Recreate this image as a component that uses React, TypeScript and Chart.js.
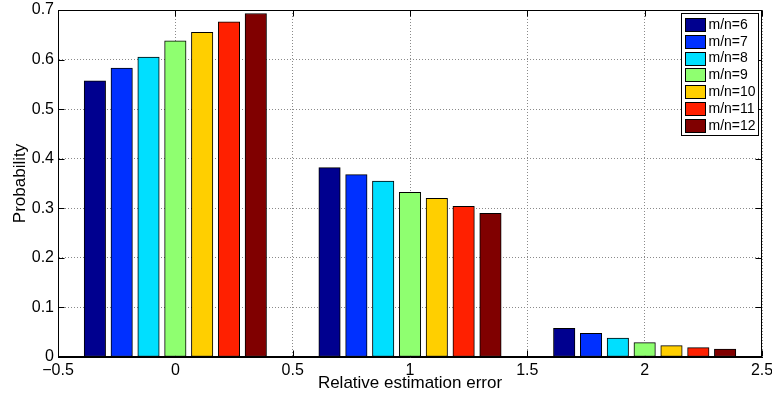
import React, { useEffect, useRef } from 'react';
import { Chart, registerables } from 'chart.js';

Chart.register(...registerables);

// ---- data ----
const categories = [0, 1, 2];
const seriesLabels = ['m/n=6', 'm/n=7', 'm/n=8', 'm/n=9', 'm/n=10', 'm/n=11', 'm/n=12'];
const mn6 = [0.557, 0.382, 0.058];
const mn7 = [0.583, 0.368, 0.048];
const mn8 = [0.605, 0.355, 0.038];
const mn9 = [0.638, 0.332, 0.029];
const mn10 = [0.655, 0.320, 0.023];
const mn11 = [0.676, 0.304, 0.019];
const mn12 = [0.693, 0.290, 0.016];
const seriesValues = [mn6, mn7, mn8, mn9, mn10, mn11, mn12];
const seriesColors = ['#00008F', '#0030FF', '#00DFFF', '#8FFF70', '#FFCF00', '#FF2000', '#800000'];
const xTickValues = [-0.5, 0, 0.5, 1, 1.5, 2, 2.5];
const yTickValues = [0, 0.1, 0.2, 0.3, 0.4, 0.5, 0.6, 0.7];

const FONT = '"Liberation Sans", Arial, Helvetica, sans-serif';

const fmt = (v: number) => {
  const s = String(Number(v.toFixed(2)));
  return v < 0 ? '\u2212' + s.slice(1) : s;
};

const framePlugin = {
  id: 'matlabFrame',
  beforeDatasetsDraw(chart: any) {
    const { ctx, chartArea: a, scales } = chart;
    const xs = scales.x;
    const ys = scales.y;
    const L = Math.round(a.left) + 0.5;
    const R = Math.round(a.right) - 0.5;
    const T = Math.round(a.top) + 0.5;
    const B = Math.round(a.bottom) - 0.5;
    const tl = 6;
    ctx.save();
    ctx.strokeStyle = '#000';
    ctx.lineWidth = 1;
    ctx.setLineDash([]);
    ctx.beginPath();
    xTickValues.forEach((v) => {
      const px = Math.round(xs.getPixelForValue(v)) + 0.5;
      ctx.moveTo(px, B);
      ctx.lineTo(px, B - tl);
      ctx.moveTo(px, T);
      ctx.lineTo(px, T + tl);
    });
    yTickValues.forEach((v) => {
      const py = Math.round(ys.getPixelForValue(v)) + 0.5;
      ctx.moveTo(L, py);
      ctx.lineTo(L + tl, py);
      ctx.moveTo(R, py);
      ctx.lineTo(R - tl, py);
    });
    ctx.stroke();
    ctx.strokeRect(L, T, R - L, B - T);
    ctx.restore();
  },
};

const legendPlugin = {
  id: 'matlabLegend',
  afterDraw(chart: any) {
    const { ctx, chartArea: a } = chart;
    const ds = chart.data.datasets;
    ctx.save();
    ctx.font = '14px ' + FONT;
    const tw = Math.max(...ds.map((d: any) => ctx.measureText(d.label).width));
    const padL = 4;
    const sw = 20;
    const sh = 13;
    const gap = 3;
    const padR = 3;
    const rowH = 16.8;
    const w = Math.round(padL + sw + gap + tw + padR);
    const h = Math.round(2.5 + rowH * ds.length + 1.5);
    const left = Math.round(a.right - 4 - w) + 0.5;
    const top = Math.round(a.top + 3) + 0.5;
    ctx.fillStyle = '#fff';
    ctx.fillRect(left, top, w, h);
    ctx.strokeStyle = '#000';
    ctx.lineWidth = 1;
    ctx.strokeRect(left, top, w, h);
    ds.forEach((d: any, i: number) => {
      const cy = top + 2.5 + rowH * (i + 0.5);
      const sy = Math.round(cy - sh / 2) + 0.5;
      const sx = left + padL;
      ctx.fillStyle = d.backgroundColor;
      ctx.fillRect(sx, sy, sw, sh);
      ctx.strokeStyle = '#000';
      ctx.strokeRect(sx, sy, sw, sh);
      ctx.fillStyle = '#000';
      ctx.textBaseline = 'middle';
      ctx.textAlign = 'left';
      ctx.fillText(d.label, sx + sw + gap, cy + 0.5);
    });
    ctx.restore();
  },
};

export default function App() {
  const ref = useRef<HTMLCanvasElement | null>(null);

  useEffect(() => {
    if (!ref.current) return;
    const datasets = seriesLabels.map((label, i) => ({
      label,
      data: categories.map((c, j) => ({ x: c, y: seriesValues[i][j] })),
      backgroundColor: seriesColors[i],
      borderColor: '#000',
      borderWidth: 1,
      borderSkipped: false,
      barThickness: 'flex',
      categoryPercentage: 0.8,
      barPercentage: 0.8,
    }));

    const chart = new Chart(ref.current, {
      type: 'bar',
      data: { datasets } as any,
      plugins: [framePlugin, legendPlugin],
      options: {
        animation: false,
        responsive: true,
        maintainAspectRatio: false,
        layout: { padding: { top: 10, right: 10, left: 0, bottom: 0 } },
        plugins: {
          legend: { display: false },
          tooltip: { enabled: false },
        },
        scales: {
          x: {
            type: 'linear',
            min: -0.5,
            max: 2.5,
            offset: false,
            afterBuildTicks: (s: any) => {
              s.ticks = xTickValues.map((v) => ({ value: v }));
            },
            afterFit: (s: any) => {
              s.height = 39;
              s.paddingRight = 0;
              s.paddingLeft = 0;
            },
            grid: { color: '#8a8a8a', drawTicks: false, offset: false, lineWidth: 1 },
            border: { display: true, color: '#000', width: 1, dash: [1, 2] },
            ticks: {
              color: '#000',
              font: { family: FONT, size: 16 },
              padding: 4,
              autoSkip: false,
              maxRotation: 0,
              callback: (v: any) => fmt(Number(v)),
            },
            title: {
              display: true,
              text: 'Relative estimation error',
              color: '#000',
              font: { family: FONT, size: 17 },
              padding: { top: 0, bottom: 2 },
            },
          },
          y: {
            type: 'linear',
            min: 0,
            max: 0.7,
            afterBuildTicks: (s: any) => {
              s.ticks = yTickValues.map((v) => ({ value: v }));
            },
            afterFit: (s: any) => {
              s.width = 58;
              s.paddingTop = 0;
              s.paddingBottom = 0;
            },
            grid: { color: '#8a8a8a', drawTicks: false, lineWidth: 1 },
            border: { display: true, color: '#000', width: 1, dash: [1, 2] },
            ticks: {
              color: '#000',
              font: { family: FONT, size: 16 },
              padding: 4,
              autoSkip: false,
              callback: (v: any) => fmt(Number(v)),
            },
            title: {
              display: true,
              text: 'Probability',
              color: '#000',
              font: { family: FONT, size: 17 },
              padding: { top: 10, bottom: 0 },
            },
          },
        },
      } as any,
    });
    return () => chart.destroy();
  }, []);

  return (
    <div style={{ position: 'fixed', left: 0, top: 0, width: 772, height: 396, background: '#fff' }}>
      <canvas ref={ref} />
    </div>
  );
}
